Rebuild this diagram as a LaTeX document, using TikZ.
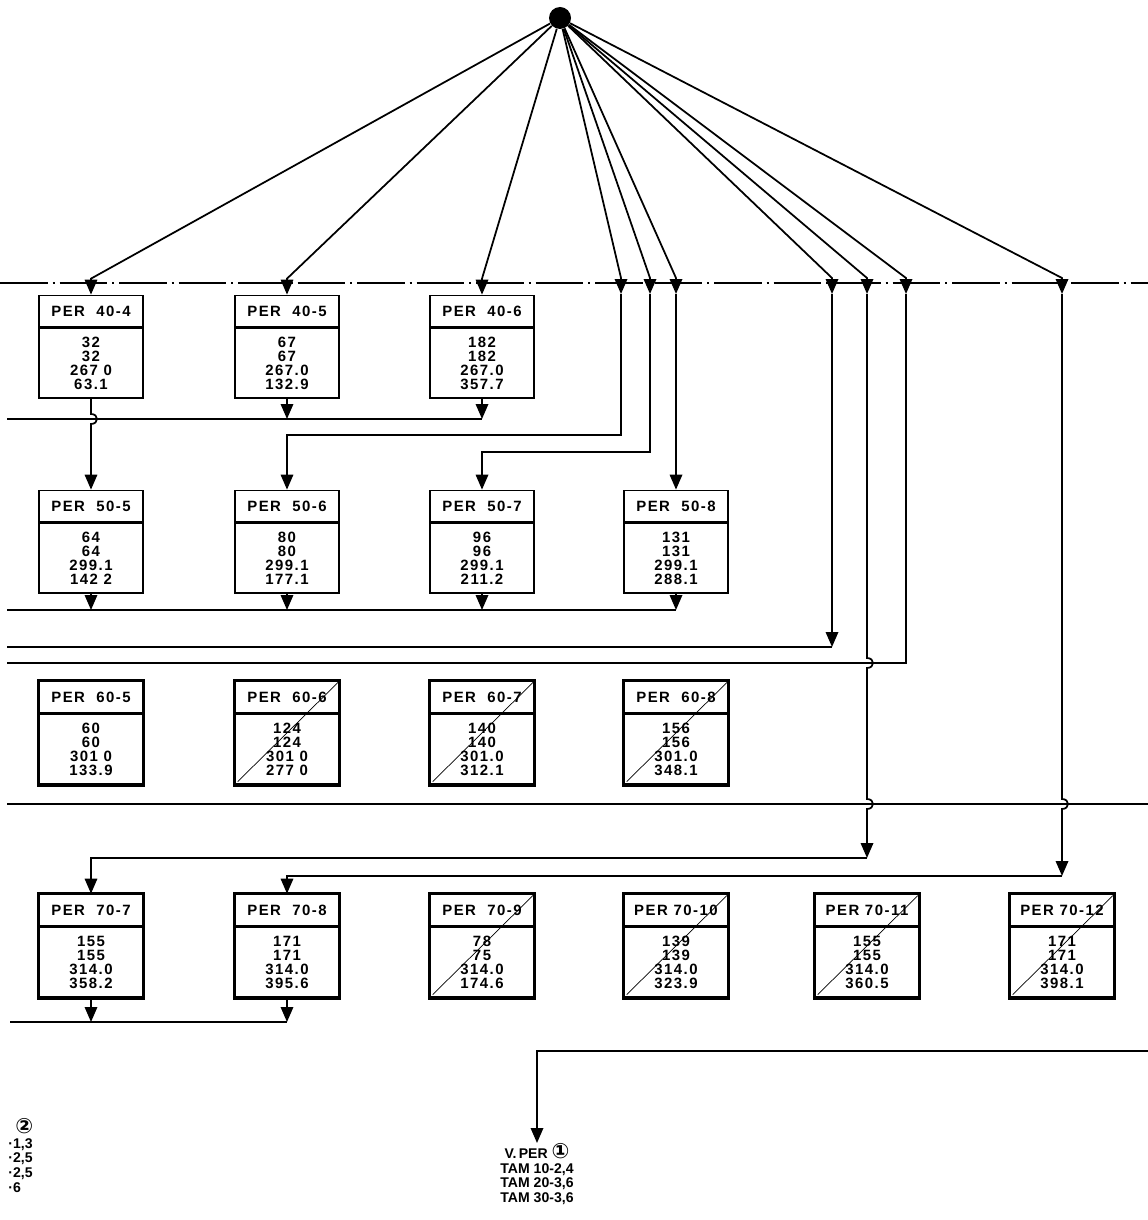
\documentclass[tikz,border=0pt]{standalone}
\usepackage{fontspec}
\setmainfont{Liberation Sans}
\newfontfamily\perfont[LetterSpace=10]{Liberation Sans}
\newfontfamily\symfont{DejaVu Sans}
\usepackage{tikz}
\usetikzlibrary{arrows.meta,calc,positioning}
\tikzset{
  perhead/.style={
    draw,
    line width=1pt,
    minimum width=20.8mm,
    minimum height=6.2mm,
    inner sep=0pt,
    font=\perfont\bfseries\fontsize{8.5}{8}\selectfont
  },
  perbody/.style={
    draw,
    line width=1pt,
    minimum width=20.8mm,
    minimum height=14mm,
    inner sep=0pt,
    align=center,
    font=\perfont\bfseries\fontsize{8.5}{7.9}\selectfont
  },
  heavy/.style={
    line width=1.8pt
  },
  arrow/.style={
    -{Triangle[length=3mm,width=2.5mm]},
    line width=1pt
  },
  wire/.style={
    line width=1pt
  },
  strike/.style={
    line width=0.4pt,
    shorten <=1mm,
    shorten >=0.5mm
  },
  note/.style={
    inner sep=0pt,
    font=\bfseries\fontsize{8}{8.4}\selectfont
  }
}

\begin{document}
\begin{tikzpicture}[x=0.2mm, y=-0.2mm]
\useasboundingbox (0,0) rectangle (1148,1220);
\node[circle, fill=black, minimum size=4.4mm, inner sep=0pt] (src) at (560,18) {};
\draw[wire, dash pattern=on 9.5mm off 1mm on 0.4mm off 1mm] (0,283) -- (1148,283);

% PER 40
\node[perhead] (h44) at (91,311) {PER~ 40-4};
\node[perbody, below=0pt of h44] (b44) {32\\32\\267 0\\63.1};
\node[perhead] (h45) at (287,311) {PER~ 40-5};
\node[perbody, below=0pt of h45] (b45) {67\\67\\267.0\\132.9};
\node[perhead] (h46) at (482,311) {PER~ 40-6};
\node[perbody, below=0pt of h46] (b46) {182\\182\\267.0\\357.7};

% PER 50
\node[perhead] (h55) at (91,506) {PER~ 50-5};
\node[perbody, below=0pt of h55] (b55) {64\\64\\299.1\\142 2};
\node[perhead] (h56) at (287,506) {PER~ 50-6};
\node[perbody, below=0pt of h56] (b56) {80\\80\\299.1\\177.1};
\node[perhead] (h57) at (482,506) {PER~ 50-7};
\node[perbody, below=0pt of h57] (b57) {96\\96\\299.1\\211.2};
\node[perhead] (h58) at (676,506) {PER~ 50-8};
\node[perbody, below=0pt of h58] (b58) {131\\131\\299.1\\288.1};

% PER 60
\node[perhead] (h65) at (91,697) {PER~ 60-5};
\node[perbody, below=0pt of h65] (b65) {60\\60\\301 0\\133.9};
\node[perhead] (h66) at (287,697) {PER~ 60-6};
\node[perbody, below=0pt of h66] (b66) {124\\124\\301 0\\277 0};
\node[perhead] (h67) at (482,697) {PER~ 60-7};
\node[perbody, below=0pt of h67] (b67) {140\\140\\301.0\\312.1};
\node[perhead] (h68) at (676,697) {PER~ 60-8};
\node[perbody, below=0pt of h68] (b68) {156\\156\\301.0\\348.1};

% PER 70
\node[perhead] (h77) at (91,910) {PER~ 70-7};
\node[perbody, below=0pt of h77] (b77) {155\\155\\314.0\\358.2};
\node[perhead] (h78) at (287,910) {PER~ 70-8};
\node[perbody, below=0pt of h78] (b78) {171\\171\\314.0\\395.6};
\node[perhead] (h79) at (482,910) {PER~ 70-9};
\node[perbody, below=0pt of h79] (b79) {78\\75\\314.0\\174.6};
\node[perhead] (h710) at (676,910) {PER 70-10};
\node[perbody, below=0pt of h710] (b710) {139\\139\\314.0\\323.9};
\node[perhead] (h711) at (867,910) {PER 70-11};
\node[perbody, below=0pt of h711] (b711) {155\\155\\314.0\\360.5};
\node[perhead] (h712) at (1062,910) {PER 70-12};
\node[perbody, below=0pt of h712] (b712) {171\\171\\314.0\\398.1};

% heavy frames and strokes
\draw[heavy] (h65.north west) rectangle (b65.south east);
\draw[heavy] (h66.north west) rectangle (b66.south east);
\draw[heavy] (h67.north west) rectangle (b67.south east);
\draw[heavy] (h68.north west) rectangle (b68.south east);
\draw[heavy] (h77.north west) rectangle (b77.south east);
\draw[heavy] (h78.north west) rectangle (b78.south east);
\draw[heavy] (h79.north west) rectangle (b79.south east);
\draw[heavy] (h710.north west) rectangle (b710.south east);
\draw[heavy] (h711.north west) rectangle (b711.south east);
\draw[heavy] (h712.north west) rectangle (b712.south east);
\draw[strike] (b66.south west) -- (h66.north east);
\draw[strike] (b67.south west) -- (h67.north east);
\draw[strike] (b68.south west) -- (h68.north east);
\draw[strike] (b79.south west) -- (h79.north east);
\draw[strike] (b710.south west) -- (h710.north east);
\draw[strike] (b711.south west) -- (h711.north east);
\draw[strike] (b712.south west) -- (h712.north east);

% notes
\node[note, anchor=north, align=center] (vper) at (537,1143) {V.\,PER {\symfont\fontsize{12}{10}\selectfont ①}\\TAM 10-2,4\\TAM 20-3,6\\TAM 30-3,6};
\node[note, anchor=north west, align=left] (leg) at (8,1118) {\hspace{1.4mm}{\symfont\fontsize{12}{10}\selectfont ②}\\·1,3\\·2,5\\·2,5\\·6};

% tie points
\coordinate (p1) at (621,294);
\coordinate (p2) at (650,294);
\coordinate (p3) at (676,294);
\coordinate (q1) at (832,294);
\coordinate (q2) at (867,294);
\coordinate (q3) at (906,294);
\coordinate (q4) at (1062,294);
\coordinate (ya) at (7,419);
\coordinate (yb) at (7,610);
\coordinate (yc) at (7,647);
\coordinate (yd) at (7,663);
\coordinate (ye) at (7,804);
\coordinate (ye2) at (1148,804);
\coordinate (yf) at (0,858);
\coordinate (yg) at (0,876);
\coordinate (yh) at (10,1022);
\coordinate (rin) at (1148,1051);

% fan from the source
\draw[arrow] (src) -- ($(h44.north)+(0,-16)$) -- (h44.north);
\draw[arrow] (src) -- ($(h45.north)+(0,-16)$) -- (h45.north);
\draw[arrow] (src) -- ($(h46.north)+(0,-16)$) -- (h46.north);
\draw[arrow] (src) -- ($(p1)+(0,-16)$) -- (p1);
\draw[arrow] (src) -- ($(p2)+(0,-16)$) -- (p2);
\draw[arrow] (src) -- ($(p3)+(0,-16)$) -- (p3);
\draw[arrow] (src) -- ($(q1)+(0,-16)$) -- (q1);
\draw[arrow] (src) -- ($(q2)+(0,-16)$) -- (q2);
\draw[arrow] (src) -- ($(q3)+(0,-16)$) -- (q3);
\draw[arrow] (src) -- ($(q4)+(0,-16)$) -- (q4);

% routes to PER 50
\draw[arrow] (p1) -- ++(0,141) -| (h56.north);
\draw[arrow] (p2) -- ++(0,158) -| (h57.north);
\draw[arrow] (p3) -- (h58.north);
\draw[wire] (ya) -- (ya -| b46.south);
\draw[arrow] (b45.south) -- (b45.south |- ya);
\draw[arrow] (b46.south) -- (b46.south |- ya);
\draw[arrow] (b44.south) -- ($(b44.south |- ya)+(0,-5)$) .. controls +(8,0) and +(8,0) .. ($(b44.south |- ya)+(0,5)$) -- (h55.north);

% collector under PER 50
\draw[wire] (yb) -- (yb -| b58.south);
\draw[arrow] (b55.south) -- (b55.south |- yb);
\draw[arrow] (b56.south) -- (b56.south |- yb);
\draw[arrow] (b57.south) -- (b57.south |- yb);
\draw[arrow] (b58.south) -- (b58.south |- yb);

% long runs
\draw[arrow] (q1) -- (q1 |- yc);
\draw[wire] (q1 |- yc) -- (yc);
\draw[wire] (q3) |- (yd);
\draw[wire] (ye) -- (ye2);
\draw[arrow] (q2) -- ($(q2 |- yd)+(0,-5)$) .. controls +(8,0) and +(8,0) .. ($(q2 |- yd)+(0,5)$) -- ($(q2 |- ye)+(0,-5)$) .. controls +(8,0) and +(8,0) .. ($(q2 |- ye)+(0,5)$) -- (q2 |- yf);
\draw[arrow] (q2 |- yf) -| (h77.north);
\draw[arrow] (q4) -- ($(q4 |- ye)+(0,-5)$) .. controls +(8,0) and +(8,0) .. ($(q4 |- ye)+(0,5)$) -- (q4 |- yg);
\draw[arrow] (q4 |- yg) -| (h78.north);

% collector under PER 70
\draw[wire] (yh) -- (yh -| b78.south);
\draw[arrow] (b77.south) -- (b77.south |- yh);
\draw[arrow] (b78.south) -- (b78.south |- yh);

\draw[arrow] (rin) -| (vper.north);
\end{tikzpicture}
\end{document}
